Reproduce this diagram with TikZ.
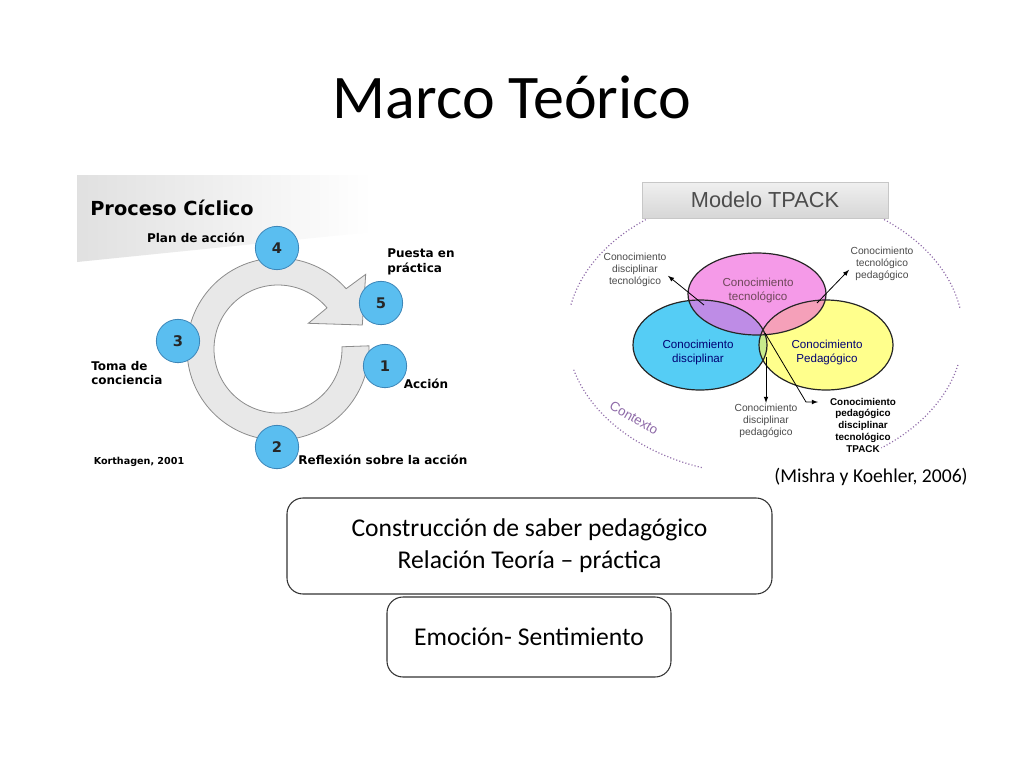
\documentclass[tikz,border=0pt]{standalone}
\usepackage{fontspec}
\setmainfont{Carlito}
\newfontfamily\verdfont{DejaVu Sans}
\newfontfamily\arialfont{Liberation Sans}
\usepackage{xcolor}
\usepackage{tikz}
\usetikzlibrary{calc}
\usetikzlibrary{shapes,arrows,positioning}
\usetikzlibrary{backgrounds}

\definecolor{azulnum}{HTML}{5ABEF0}
\definecolor{bordenum}{HTML}{3D86B8}
\definecolor{rosa}{HTML}{F59AE8}
\definecolor{celeste}{HTML}{55CDF5}
\definecolor{amarillo}{HTML}{FFFF8C}
\definecolor{morado}{HTML}{BE8CE6}
\definecolor{salmon}{HTML}{F5A0B9}
\definecolor{verdoso}{HTML}{C8EB8C}
\definecolor{contexto}{HTML}{8E6AA8}
\definecolor{textogris}{HTML}{4A4A4A}

\begin{document}
\begin{tikzpicture}[x=0.75pt,y=-0.75pt,
	num/.style={circle,draw=bordenum,fill=azulnum,line width=0.6pt,minimum size=32.5pt,inner sep=0pt,font=\verdfont\bfseries\fontsize{11}{13}\selectfont,text=black!85},
	etiq/.style={font=\verdfont\bfseries\fontsize{9}{11}\selectfont,inner sep=0pt},
	caja/.style={draw=black!80,rounded corners=12pt,line width=0.8pt,align=center,font=\fontsize{19.2}{24}\selectfont},
	venn/.style={draw=black!85,line width=0.9pt},
	dentro/.style={align=center,font=\arialfont\fontsize{8.7}{10.5}\selectfont,inner sep=0pt},
	fuera/.style={align=center,font=\arialfont\fontsize{7.7}{8.8}\selectfont,text=textogris,inner sep=1pt},
	flecha/.style={-latex,black,line width=0.6pt},
	puntos/.style={contexto,line width=0.9pt,dash pattern=on 0.8pt off 1.6pt}]
	\fill[white] (0,0) rectangle (1024,768);
	\useasboundingbox (0,0) rectangle (1024,768);
	% titulo
	\node[font=\fontsize{46.5}{54}\selectfont] (titulo) at (512,97) {Marco Teórico};
	
	% proceso ciclico
	\shade[left color=black!12,right color=white] (77,175) -- (372,175) -- (372,232) -- (77,262) -- cycle;
	\node[etiq,font=\verdfont\bfseries\fontsize{14.5}{17}\selectfont] (proc) at (172,208) {Proceso Cíclico};
	\coordinate (C) at (278,349);
	\draw[fill=black!9,draw=black!45,line width=0.6pt] ($(C)+(-2:91)$) arc[start angle=-2,end angle=318.5,radius=91]
		-- (365.7,274.3) -- (362.3,325) -- (308.3,323.3) -- ($(C)+(320:64)$)
		arc[start angle=320,end angle=-2,radius=64] -- cycle;
	\node[num] (n4) at (277,248) {4};
	\node[num] (n5) at (381,303) {5};
	\node[num] (n1) at (385,366) {1};
	\node[num] (n2) at (277,447) {2};
	\node[num] (n3) at (178,341) {3};
	\node[etiq] (plan) at (196,238) {Plan de acción};
	\node[etiq,align=left,anchor=west] (puesta) at (387,262) {Puesta en\\práctica};
	\node[etiq,align=left,anchor=west] (toma) at (91,373) {Toma de\\conciencia};
	\node[etiq] (accion) at (426,384) {Acción};
	\node[etiq] (refl) at (383,460) {Reflexión sobre la acción};
	\node[etiq,font=\verdfont\bfseries\fontsize{7.2}{9}\selectfont] (kort) at (139,462) {Korthagen, 2001};
	
	% modelo TPACK
	\coordinate (E) at (765,333);
	\draw[puntos] ($(E)+(-53:198 and 142)$) arc[start angle=-53,end angle=-10,x radius=198,y radius=142];
	\draw[puntos] ($(E)+(13:198 and 142)$) arc[start angle=13,end angle=54,x radius=198,y radius=142];
	\draw[puntos] ($(E)+(-120:198 and 142)$) arc[start angle=-120,end angle=-169,x radius=198,y radius=142];
	\draw[puntos] ($(E)+(165:198 and 142)$) arc[start angle=165,end angle=108,x radius=198,y radius=142];
	\node[draw=black!22,top color=black!6,bottom color=black!16,minimum width=184.5pt,minimum height=27pt,
		font=\arialfont\fontsize{16.3}{19}\selectfont,text=black!70] (tpack) at (765,200) {Modelo TPACK};
	\node[font=\arialfont\fontsize{10}{12}\selectfont,text=contexto,rotate=-30,inner sep=0pt] (ctx) at (634,418) {Contexto};
	
	\coordinate (tec) at (757,294);
	\coordinate (dis) at (700,345);
	\coordinate (ped) at (826,345);
	\fill[celeste] (dis) ellipse[x radius=67,y radius=45];
	\fill[amarillo] (ped) ellipse[x radius=67,y radius=45];
	\fill[rosa] (tec) ellipse[x radius=69,y radius=41];
	\begin{scope}
		\clip (dis) ellipse[x radius=67,y radius=45];
		\fill[morado] (tec) ellipse[x radius=69,y radius=41];
		\fill[verdoso] (ped) ellipse[x radius=67,y radius=45];
	\end{scope}
	\begin{scope}
		\clip (ped) ellipse[x radius=67,y radius=45];
		\fill[salmon] (tec) ellipse[x radius=69,y radius=41];
	\end{scope}
	\draw[venn] (dis) ellipse[x radius=67,y radius=45];
	\draw[venn] (ped) ellipse[x radius=67,y radius=45];
	\draw[venn] (tec) ellipse[x radius=69,y radius=41];
	\node[dentro,text=black!50!magenta!70!black] (ltec) at (758,290) {Conocimiento\\tecnológico};
	\node[dentro,text=black!55!blue] (ldis) at (698,352) {Conocimiento\\disciplinar};
	\node[dentro,text=black!55!blue] (lped) at (827,352) {Conocimiento\\Pedagógico};
	
	\node[fuera] (lDT) at (635,270) {Conocimiento\\disciplinar\\tecnológico};
	\node[fuera] (lTP) at (882,264) {Conocimiento\\tecnológico\\pedagógico};
	\node[fuera] (lDP) at (766,421) {Conocimiento\\disciplinar\\pedagógico};
	\node[fuera,text=black,font=\arialfont\bfseries\fontsize{7.4}{8.8}\selectfont] (lTK) at (863,425) {Conocimiento\\pedagógico\\disciplinar\\tecnológico\\TPACK};
	\coordinate (pDT) at (704,305);
	\coordinate (pTP) at (817,303);
	\coordinate (pDP) at (766,357);
	\coordinate (pTK) at (765,333);
	\draw[flecha] (pDT) -- (lDT.-10);
	\draw[flecha] (pTP) -- (lTP.190);
	\draw[flecha] (pDP) -- (lDP.north);
	\draw[flecha] (pTK) -- (806,402) -- (818,402);
	\node[font=\fontsize{14.7}{17}\selectfont] (cita) at (871,477) {(Mishra y Koehler, 2006)};
	
	% cajas
	\node[caja,minimum width=363.75pt,minimum height=72pt] (saber) at (529.5,546) {Construcción de saber pedagógico\\Relación Teoría -- práctica};
	\node[caja,minimum width=213pt,minimum height=60pt] (emo) at (529,637) {Emoción- Sentimiento};
\end{tikzpicture}
\end{document}
